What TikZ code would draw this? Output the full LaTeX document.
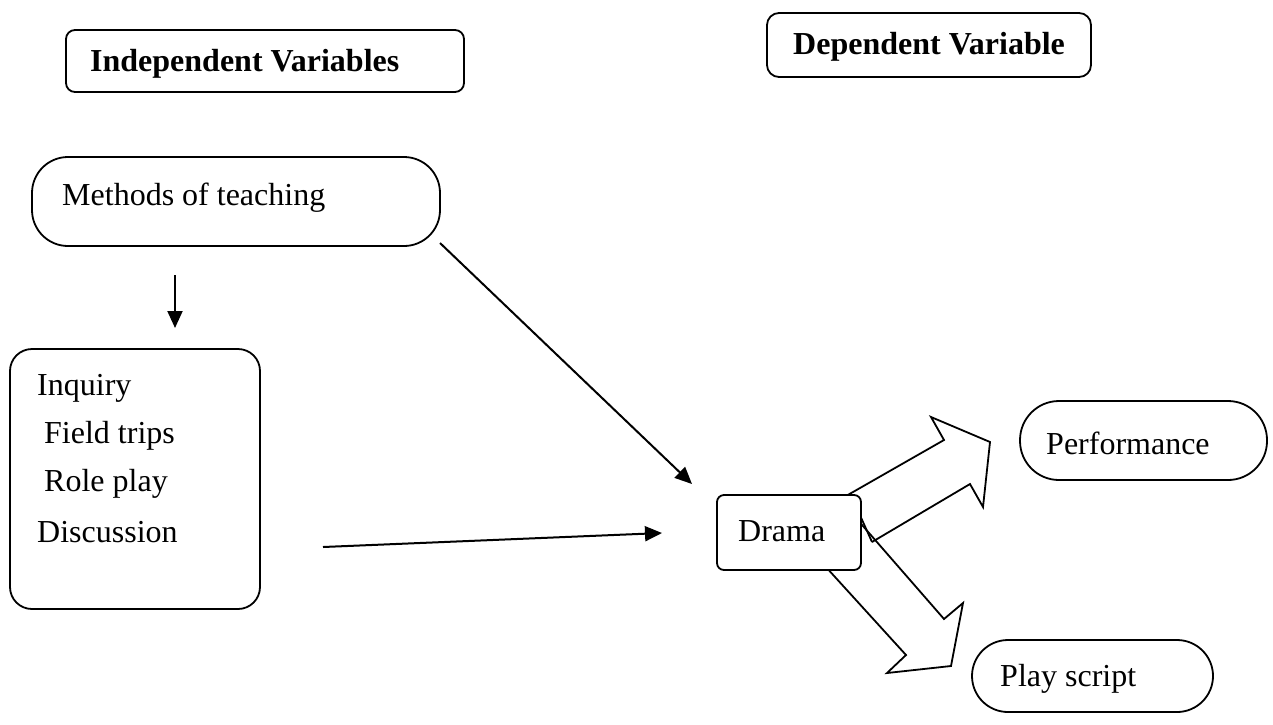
\documentclass[tikz,border=0pt]{standalone}
\usepackage{fontspec}
\setmainfont{Liberation Serif}
\usetikzlibrary{arrows.meta}
\begin{document}
\begin{tikzpicture}[x=1pt,y=-1pt,
  box/.style={draw, line width=1.8pt, fill=white, inner sep=0pt},
  lbl/.style={anchor=west, inner sep=0pt, font=\fontsize{32}{38}\selectfont},
  blbl/.style={lbl, font=\fontsize{32}{38}\selectfont\bfseries},
  conn/.style={line width=2pt, -{Triangle[length=17pt,width=15pt]}},
  blockarrow/.style={draw, line width=1.8pt, line join=miter}]
\useasboundingbox (0,0) rectangle (1273,724);

% header boxes
\node[box, rounded corners=9pt, minimum width=398pt, minimum height=62pt] (ivbox) at (265,61) {};
\node[blbl] (ivtext) at (90,64) {Independent Variables};
\node[box, rounded corners=12pt, minimum width=324pt, minimum height=64pt] (dvbox) at (929,45) {};
\node[blbl] (dvtext) at (793,47) {Dependent Variable};

% methods
\node[box, rounded corners=36pt, minimum width=408pt, minimum height=89pt] (methods) at (236,201.5) {};
\node[lbl] (methodstext) at (62,198) {Methods of teaching};

% list box
\node[box, rounded corners=22pt, minimum width=250pt, minimum height=260pt] (list) at (135,479) {};
\node[lbl] (inq) at (37,388) {Inquiry};
\node[lbl] (field) at (44,436) {Field trips};
\node[lbl] (role) at (44,484) {Role play};
\node[lbl] (disc) at (37,532) {Discussion};

% outcome pills
\node[box, rounded corners=39pt, minimum width=247pt, minimum height=79pt] (perf) at (1143.5,440.5) {};
\node[lbl] (perftext) at (1046,443) {Performance};
\node[box, rounded corners=36pt, minimum width=241pt, minimum height=72pt] (play) at (1092.5,676) {};
\node[lbl] (playtext) at (1000,679) {Play script};

% connectors
\coordinate (d1) at (175,275);
\coordinate (d2) at (175,328);
\draw[conn] (d1) -- (d2);
\coordinate (m1) at (440,243);
\coordinate (m2) at (692,484);
\draw[conn] (m1) -- (m2);
\coordinate (h1) at (323,547);
\coordinate (h2) at (662,533);
\draw[conn] (h1) -- (h2);

% block arrows
\draw[blockarrow] (849,510) -- (944,619) -- (963,603) -- (951,666) -- (887,673) -- (906,655) -- (815,555);
\draw[blockarrow] (872,542) -- (970,484) -- (983,507) -- (990,442) -- (931,417) -- (944,440) -- (846,496);
\draw[blockarrow] (872,542) -- (850,493);

% drama box on top
\node[box, rounded corners=7pt, minimum width=144pt, minimum height=75pt] (drama) at (789,532.5) {};
\node[lbl] (dramatext) at (738,531) {Drama};
\end{tikzpicture}
\end{document}
